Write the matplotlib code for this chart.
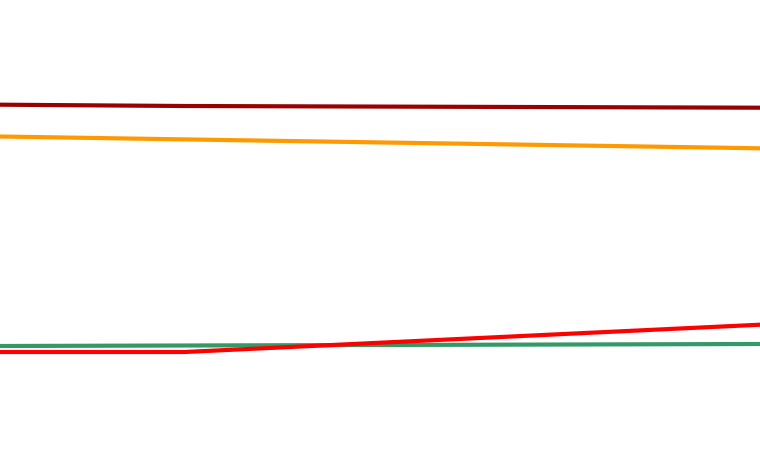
import matplotlib
matplotlib.use("Agg")
import matplotlib.pyplot as plt

# x positions of the data points (start, kink of the red series, end)
x = [0, 0.243, 1.0]

# series values (arbitrary units 0..450)
dark_red = [345.3, 344.0, 342.3]
orange = [313.5, 310.6, 301.7]
green = [104.0, 104.5, 106.0]
red = [98.0, 98.0, 125.3]

fig = plt.figure(figsize=(7.6, 4.5), dpi=100)
ax = fig.add_axes([0, 0, 1, 1])

ax.plot(x, dark_red, color="#990000", linewidth=3)
ax.plot(x, orange, color="#ff9900", linewidth=3)
ax.plot(x, green, color="#339966", linewidth=3)
ax.plot(x, red, color="#ff0000", linewidth=3)

ax.set_xlim(0, 1)
ax.set_ylim(0, 450)
ax.axis("off")

fig.savefig("out.png", dpi=100)
